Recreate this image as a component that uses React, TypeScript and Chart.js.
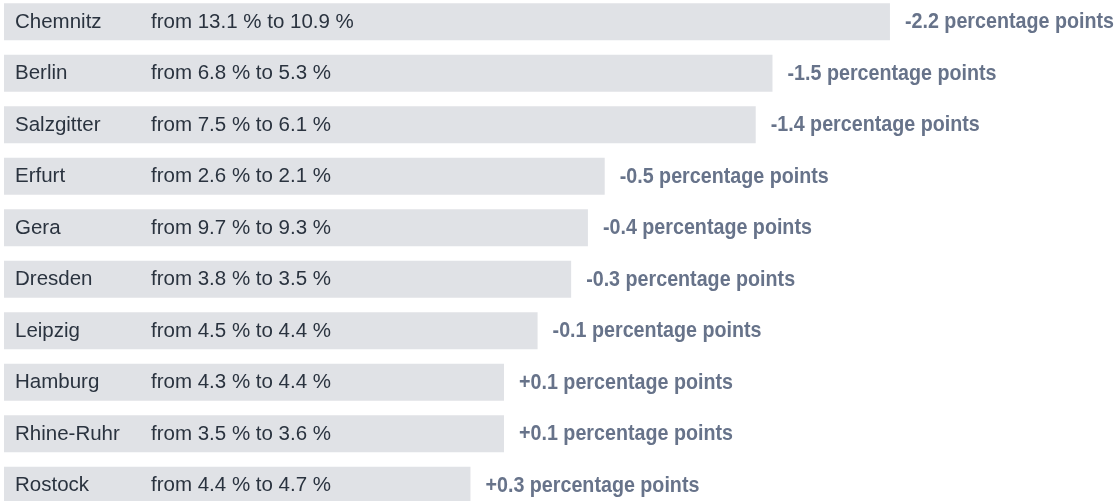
import { useEffect, useRef } from "react";
import { Chart, registerables } from "chart.js";

Chart.register(...registerables);

const cities = ["Chemnitz", "Berlin", "Salzgitter", "Erfurt", "Gera", "Dresden", "Leipzig", "Hamburg", "Rhine-Ruhr", "Rostock"];
const fromRates = ["13.1", "6.8", "7.5", "2.6", "9.7", "3.8", "4.5", "4.3", "3.5", "4.4"];
const toRates = ["10.9", "5.3", "6.1", "2.1", "9.3", "3.5", "4.4", "4.4", "3.6", "4.7"];
const changes = [-2.2, -1.5, -1.4, -0.5, -0.4, -0.3, -0.1, 0.1, 0.1, 0.3];
const changeLabels = ["-2.2", "-1.5", "-1.4", "-0.5", "-0.4", "-0.3", "-0.1", "+0.1", "+0.1", "+0.3"];

const AXIS_MAX = 3.08;
const AXIS_MIN = -3.571;

const labelPlugin = {
  id: "rowLabels",
  afterDatasetsDraw(chart: any) {
    const ctx = chart.ctx;
    const meta = chart.getDatasetMeta(0);
    const left = chart.chartArea.left;
    ctx.save();
    ctx.textBaseline = "middle";
    ctx.textAlign = "left";
    meta.data.forEach((bar: any, i: number) => {
      const y = bar.y + 0.5;
      const end = Math.max(bar.x, bar.base);
      ctx.fillStyle = "#2a333f";
      ctx.font = "20.5px 'Liberation Sans', Arial, sans-serif";
      ctx.fillText(cities[i], left + 11, y);
      ctx.fillText(`from ${fromRates[i]} % to ${toRates[i]} %`, left + 147, y);
      ctx.save();
      ctx.fillStyle = "#67738a";
      ctx.font = "bold 22px 'Liberation Sans', Arial, sans-serif";
      ctx.translate(end + 15, y);
      ctx.scale(0.895, 1);
      ctx.fillText(`${changeLabels[i]} percentage points`, 0, 0);
      ctx.restore();
    });
    ctx.restore();
  },
};

export default function App() {
  const ref = useRef<HTMLCanvasElement | null>(null);
  useEffect(() => {
    document.body.style.margin = "0";
    if (!ref.current) return;
    const chart = new Chart(ref.current, {
      type: "bar",
      data: {
        labels: cities,
        datasets: [
          {
            data: changes.map((c) => [AXIS_MAX, c]) as any,
            backgroundColor: "#e0e2e6",
            borderWidth: 0,
            barPercentage: 0.72,
            categoryPercentage: 1,
          },
        ],
      },
      options: {
        indexAxis: "y",
        animation: false,
        responsive: true,
        maintainAspectRatio: false,
        layout: { padding: { left: 4, right: 0, top: 0, bottom: 0 } },
        plugins: { legend: { display: false }, tooltip: { enabled: false } },
        scales: {
          x: { type: "linear", reverse: true, min: AXIS_MIN, max: AXIS_MAX, display: false },
          y: { type: "category", display: false, offset: true },
        },
      },
      plugins: [labelPlugin],
    });
    return () => chart.destroy();
  }, []);
  return (
    <div style={{ position: "fixed", left: 0, top: -4, width: 1120, height: 515, background: "#ffffff" }}>
      <canvas ref={ref} />
    </div>
  );
}
